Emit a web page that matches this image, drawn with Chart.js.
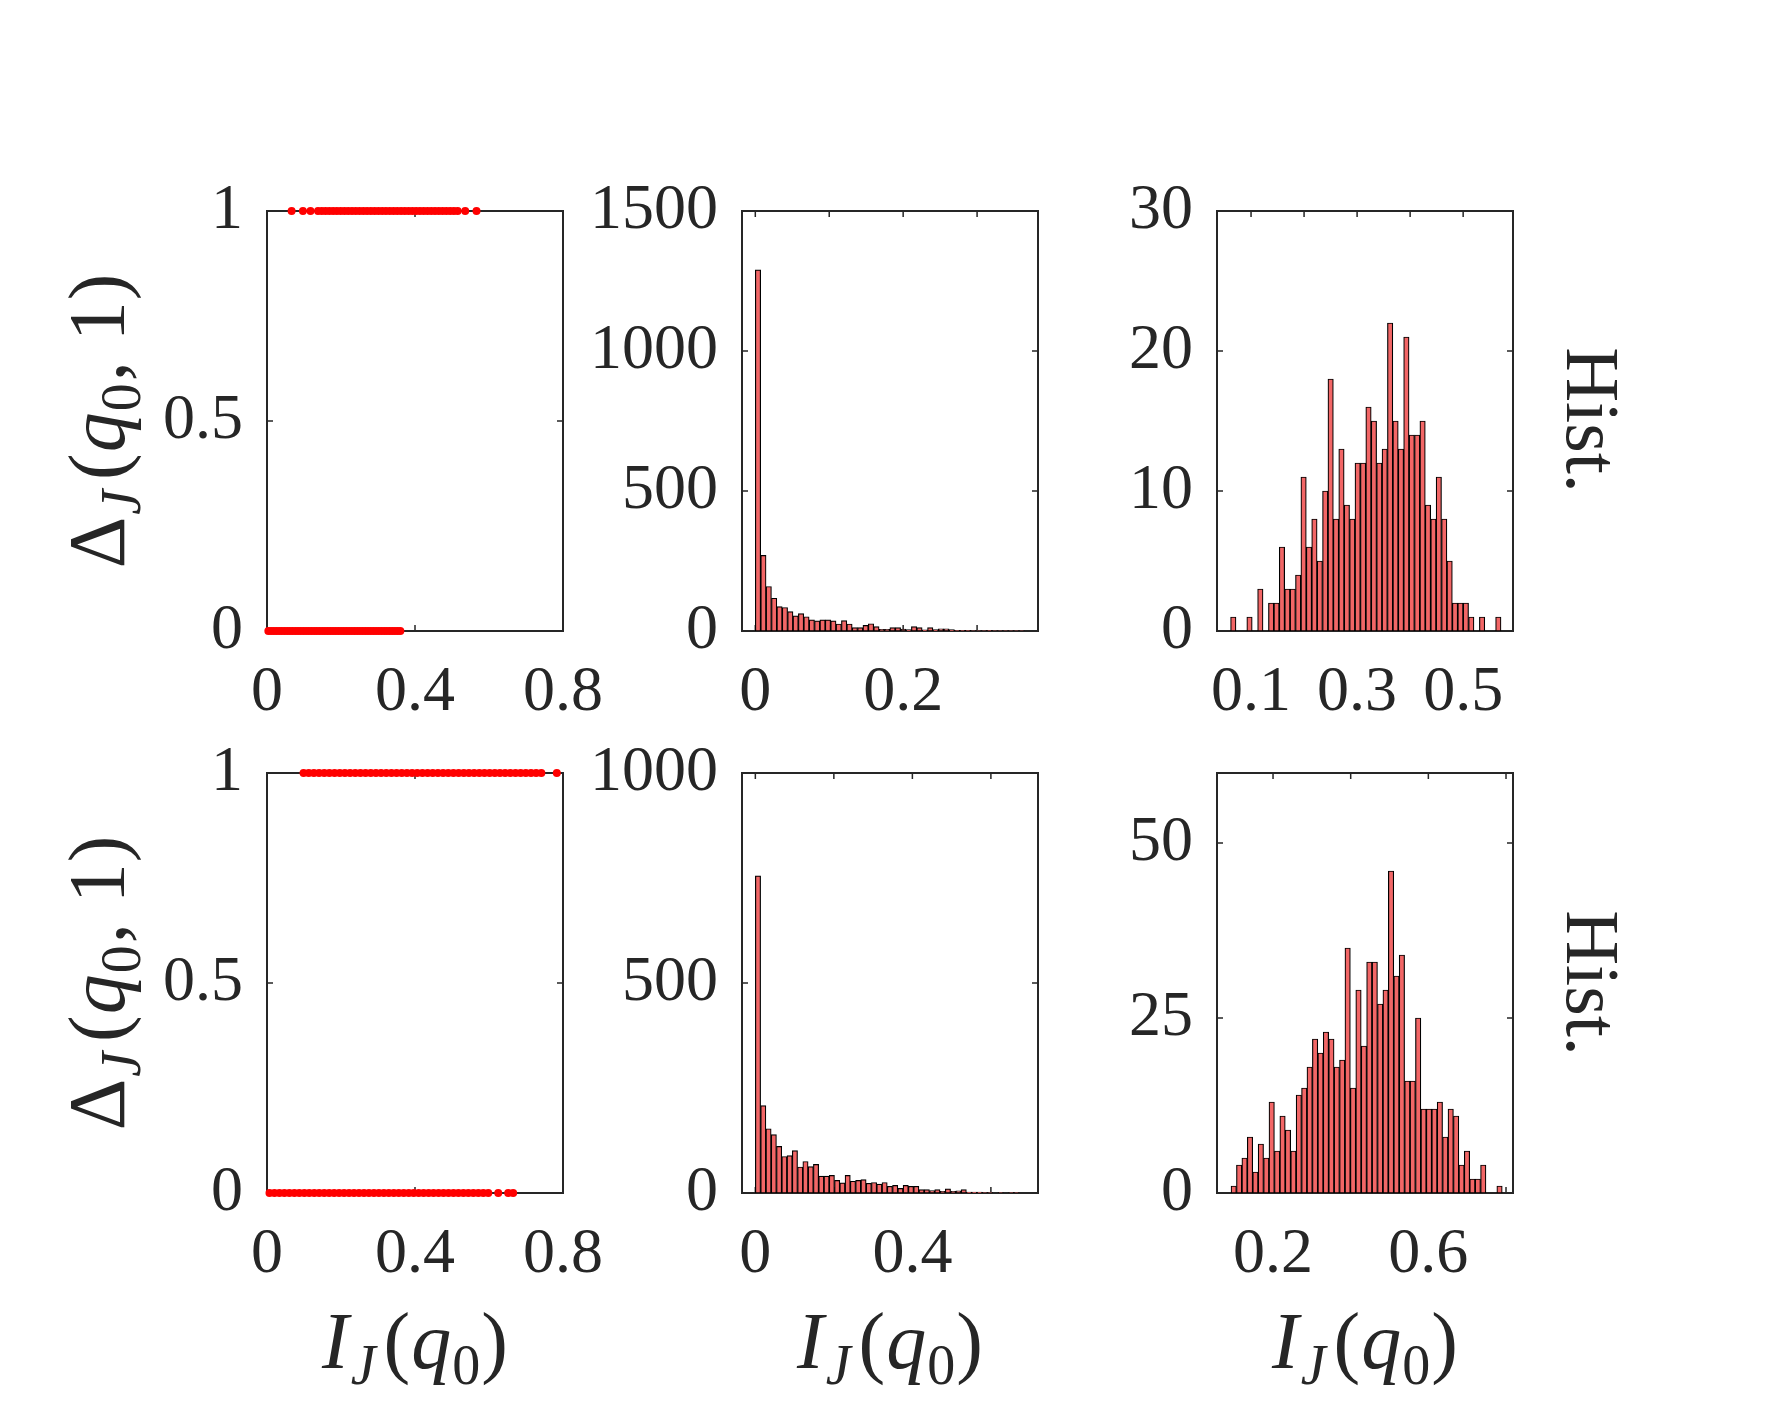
<!DOCTYPE html>
<html>
<head>
<meta charset="utf-8">
<script src="https://cdn.jsdelivr.net/npm/chart.js@4.4.1/dist/chart.umd.min.js"></script>
<style>
html, body { margin: 0; padding: 0; background: #fff; overflow: hidden; }
#fig { position: relative; width: 1781px; height: 1406px; background: #fff; }
#fig canvas { position: absolute; }
</style>
</head>
<body>
<div id="fig"></div>
<script>
// histogram bins: left edge of the first bin, bin width, counts
const topZeroStart = 0.0;
const topZeroWidth = 0.00728;
const topZeroCounts = [1290, 270, 159, 117, 87, 84, 69, 54, 62, 51,
                       40, 36, 40, 40, 36, 25, 37, 25, 12, 12,
                       20, 26, 16, 6, 6, 12, 12, 7, 5, 16,
                       12, 4, 12, 5, 8, 8, 5, 2, 2, 2,
                       1, 1, 1, 2, 1, 1, 1, 1, 1, 1];

const topOneStart = 0.0614;
const topOneWidth = 0.0102;
const topOneCounts = [1, 0, 0, 1, 0, 3, 0, 2, 2, 6,
                      3, 3, 4, 11, 6, 8, 5, 10, 18, 8,
                      13, 9, 8, 12, 12, 16, 15, 12, 13, 22,
                      15, 13, 21, 14, 14, 15, 9, 8, 11, 8,
                      5, 2, 2, 2, 1, 0, 1, 0, 0, 1];

const botZeroStart = 0.0;
const botZeroWidth = 0.01344;
const botZeroCounts = [755, 208, 153, 139, 111, 87, 89, 101, 62, 75,
                       63, 68, 40, 40, 42, 30, 24, 42, 28, 30,
                       32, 23, 25, 21, 25, 16, 18, 11, 18, 16,
                       16, 8, 8, 6, 8, 4, 10, 4, 5, 8,
                       2, 2, 2, 1, 1, 0, 1, 0, 1, 1];

const botOneStart = 0.0918;
const botOneWidth = 0.01397;
const botOneCounts = [1, 4, 5, 8, 3, 7, 5, 13, 6, 11,
                      9, 6, 14, 15, 18, 22, 20, 23, 22, 18,
                      19, 35, 15, 29, 21, 33, 33, 27, 29, 46,
                      31, 34, 16, 16, 25, 12, 12, 12, 13, 8,
                      12, 11, 4, 6, 2, 2, 4, 0, 0, 1];

// ticks and their labels (empty label = tick mark only)
const scatterXTicks = [0, 0.4, 0.8];
const scatterXLabels = ['0', '0.4', '0.8'];
const scatterYTicks = [0, 0.5, 1];
const scatterYLabels = ['0', '0.5', '1'];
const topZeroXTicks = [0, 0.1, 0.2, 0.3];
const topZeroXLabels = ['0', '', '0.2', ''];
const topZeroYTicks = [0, 500, 1000, 1500];
const topZeroYLabels = ['0', '500', '1000', '1500'];
const topOneXTicks = [0.1, 0.2, 0.3, 0.4, 0.5];
const topOneXLabels = ['0.1', '', '0.3', '', '0.5'];
const topOneYTicks = [0, 10, 20, 30];
const topOneYLabels = ['0', '10', '20', '30'];
const botZeroXTicks = [0, 0.2, 0.4, 0.6];
const botZeroXLabels = ['0', '', '0.4', ''];
const botZeroYTicks = [0, 500, 1000];
const botZeroYLabels = ['0', '500', '1000'];
const botOneXTicks = [0.2, 0.4, 0.6, 0.8];
const botOneXLabels = ['0.2', '', '0.6', ''];
const botOneYTicks = [0, 25, 50];
const botOneYLabels = ['0', '25', '50'];

const INK = '#262626';
const FAM = '"Liberation Serif", "DejaVu Serif", serif';
const BAR = '#f26666';

// canvas margins around each plot box
const PL = 230, PT = 80, PR = 140, YW = 150, XH = 100, TL = 6;

function centers(start, width, counts) {
  return counts.map((c, i) => ({x: start + (i + 0.5) * width, y: c}));
}
function occupied(start, width, counts, level) {
  return centers(start, width, counts).filter(p => p.y > 0).map(p => ({x: p.x, y: level}));
}

function drawRich(ctx, segs, cx, cy, angle) {
  ctx.save();
  ctx.translate(cx, cy);
  ctx.rotate(angle);
  ctx.fillStyle = INK;
  ctx.textBaseline = 'alphabetic';
  ctx.textAlign = 'left';
  let w = 0;
  segs.forEach(s => { ctx.font = s.f; w += ctx.measureText(s.t).width + (s.gap || 0); });
  let x = -w / 2;
  segs.forEach(s => {
    ctx.font = s.f;
    ctx.fillText(s.t, x, s.dy || 0);
    x += ctx.measureText(s.t).width + (s.gap || 0);
  });
  ctx.restore();
}

const MAIN = '80px ' + FAM;
const IT = 'italic 80px ' + FAM;
const SUB = '56px ' + FAM;
const SUBIT = 'italic 56px ' + FAM;
const xTitle = [
  {t: 'I', f: IT, gap: 2},
  {t: 'J', f: SUBIT, dy: 16, gap: 8},
  {t: '(', f: MAIN, gap: 1},
  {t: 'q', f: IT, gap: 1},
  {t: '0', f: SUB, dy: 16, gap: 1},
  {t: ')', f: MAIN}
];
const yTitle = [
  {t: 'Δ', f: MAIN, gap: 2},
  {t: 'J', f: SUBIT, dy: 16, gap: 10},
  {t: '(', f: MAIN, gap: 1},
  {t: 'q', f: IT, gap: 1},
  {t: '0', f: SUB, dy: 16, gap: 2},
  {t: ',', f: MAIN, gap: 20},
  {t: '1', f: MAIN, gap: 1},
  {t: ')', f: MAIN}
];
const histText = [{t: 'Hist.', f: '76px ' + FAM}];

const panels = [
  {box: [267, 211, 563, 631], type: 'scatter', pb: 130,
   sets: [occupied(topOneStart, topOneWidth, topOneCounts, 1), occupied(topZeroStart, topZeroWidth, topZeroCounts, 0)],
   x: [0, 0.8], y: [0, 1], xt: scatterXTicks, xl: scatterXLabels, yt: scatterYTicks, yl: scatterYLabels, ytitle: true},
  {box: [742, 211, 1038, 631], type: 'bar', pb: 130,
   sets: [centers(topZeroStart, topZeroWidth, topZeroCounts)],
   x: [-0.018, 0.3824], y: [0, 1500], xt: topZeroXTicks, xl: topZeroXLabels, yt: topZeroYTicks, yl: topZeroYLabels},
  {box: [1217, 211, 1513, 631], type: 'bar', pb: 130,
   sets: [centers(topOneStart, topOneWidth, topOneCounts)],
   x: [0.0358, 0.594], y: [0, 30], xt: topOneXTicks, xl: topOneXLabels, yt: topOneYTicks, yl: topOneYLabels, hist: 420},
  {box: [267, 773, 563, 1193], type: 'scatter', pb: 213,
   sets: [occupied(botOneStart, botOneWidth, botOneCounts, 1), occupied(botZeroStart, botZeroWidth, botZeroCounts, 0)],
   x: [0, 0.8], y: [0, 1], xt: scatterXTicks, xl: scatterXLabels, yt: scatterYTicks, yl: scatterYLabels, ytitle: true, xtitle: true},
  {box: [742, 773, 1038, 1193], type: 'bar', pb: 213,
   sets: [centers(botZeroStart, botZeroWidth, botZeroCounts)],
   x: [-0.034, 0.72], y: [0, 1000], xt: botZeroXTicks, xl: botZeroXLabels, yt: botZeroYTicks, yl: botZeroYLabels, xtitle: true},
  {box: [1217, 773, 1513, 1193], type: 'bar', pb: 213,
   sets: [centers(botOneStart, botOneWidth, botOneCounts)],
   x: [0.0557, 0.818], y: [0, 60], xt: botOneXTicks, xl: botOneXLabels, yt: botOneYTicks, yl: botOneYLabels, xtitle: true, hist: 983}
];

const fig = document.getElementById('fig');

panels.forEach(p => {
  const [l, t, r, b] = p.box;
  const ox = l - PL, oy = t - PT;
  const cv = document.createElement('canvas');
  cv.width = (r - l) + PL + PR;
  cv.height = (b - t) + PT + p.pb;
  cv.style.left = ox + 'px';
  cv.style.top = oy + 'px';
  cv.style.width = cv.width + 'px';
  cv.style.height = cv.height + 'px';
  fig.appendChild(cv);

  // box, inward ticks on all four sides, and the math labels
  const frame = {
    id: 'frame',
    beforeDatasetsDraw(chart) {
      const {ctx, chartArea: a, scales: {x, y}} = chart;
      ctx.save();
      ctx.strokeStyle = INK;
      ctx.lineWidth = 1.5;
      ctx.beginPath();
      x.ticks.forEach(tk => {
        const px = x.getPixelForValue(tk.value);
        ctx.moveTo(px, a.bottom); ctx.lineTo(px, a.bottom - TL);
        ctx.moveTo(px, a.top); ctx.lineTo(px, a.top + TL);
      });
      y.ticks.forEach(tk => {
        const py = y.getPixelForValue(tk.value);
        ctx.moveTo(a.left, py); ctx.lineTo(a.left + TL, py);
        ctx.moveTo(a.right, py); ctx.lineTo(a.right - TL, py);
      });
      ctx.stroke();
      ctx.lineWidth = 2;
      ctx.strokeRect(a.left, a.top, a.right - a.left, a.bottom - a.top);
      ctx.restore();
    },
    afterDraw(chart) {
      const ctx = chart.ctx;
      if (p.ytitle) drawRich(ctx, yTitle, 124 - ox, (t + b) / 2 - oy, -Math.PI / 2);
      if (p.xtitle) drawRich(ctx, xTitle, (l + r) / 2 - ox, 1368 - oy, 0);
      if (p.hist) drawRich(ctx, histText, 1567 - ox, p.hist - oy, Math.PI / 2);
    }
  };

  const tickFont = {family: FAM, size: 64};
  const datasets = p.type === 'bar'
    ? [{data: p.sets[0], backgroundColor: BAR, borderColor: '#000', borderWidth: 1.2,
        borderSkipped: false, barPercentage: 1, categoryPercentage: 1}]
    : p.sets.map(s => ({data: s, backgroundColor: '#ff0000', pointRadius: 4,
        pointBorderWidth: 0, pointHoverRadius: 4, clip: false}));

  new Chart(cv, {
    type: p.type,
    data: {datasets: datasets},
    options: {
      responsive: false,
      animation: false,
      events: [],
      layout: {padding: {left: PL - YW, top: PT, right: PR, bottom: p.pb - XH}},
      plugins: {legend: {display: false}, tooltip: {enabled: false}},
      scales: {
        x: {
          type: 'linear', min: p.x[0], max: p.x[1], offset: false,
          grid: {display: false, drawTicks: false, offset: false},
          border: {display: false},
          afterBuildTicks: s => { s.ticks = p.xt.map(v => ({value: v})); },
          afterFit: s => { s.height = XH; },
          ticks: {padding: 24, color: INK, font: tickFont, maxRotation: 0, autoSkip: false,
                  callback: (v, i) => p.xl[i]}
        },
        y: {
          type: 'linear', min: p.y[0], max: p.y[1],
          grid: {display: false, drawTicks: false},
          border: {display: false},
          afterBuildTicks: s => { s.ticks = p.yt.map(v => ({value: v})); },
          afterFit: s => { s.width = YW; },
          ticks: {padding: 24, color: INK, font: tickFont, autoSkip: false,
                  callback: (v, i) => p.yl[i]}
        }
      }
    },
    plugins: [frame]
  });
});
</script>
</body>
</html>
